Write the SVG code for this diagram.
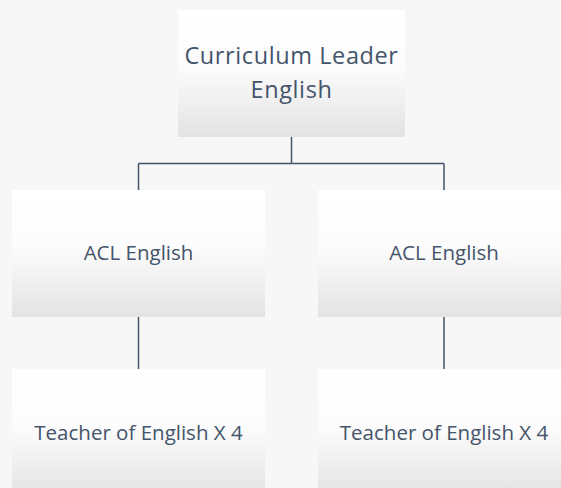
<svg xmlns="http://www.w3.org/2000/svg" width="561" height="488" viewBox="0 0 561 488">
<defs>
<linearGradient id="g" x1="0" y1="0" x2="0" y2="1">
<stop offset="0" stop-color="#ffffff"/>
<stop offset="0.45" stop-color="#fcfcfc"/>
<stop offset="1" stop-color="#e3e3e3"/>
</linearGradient>
<style>
.box{fill:url(#g);}
.t{font-family:"Open Sans","Liberation Sans",sans-serif;fill:#44546a;text-anchor:middle;}
.c{stroke:#44546a;stroke-width:1.5;fill:none;}
</style>
</defs>
<rect width="561" height="488" fill="#f7f7f7"/>
<g id="connectors">
<path class="c" d="M291.5 137 V163.5 M138.5 163.5 H444 M138.5 163.5 V190 M444 163.5 V190 M138.5 317 V369 M444 317 V369"/>
</g>
<g id="curriculum-leader">
<rect class="box" x="178" y="10" width="227" height="127"/>
<text class="t" x="291.5" y="64" font-size="23.5" letter-spacing="0.6">Curriculum Leader</text>
<text class="t" x="291.5" y="98" font-size="23.5" letter-spacing="0.6">English</text>
</g>
<g id="acl-left">
<rect class="box" x="12" y="190" width="253" height="127"/>
<text class="t" x="138.5" y="260" font-size="20.5">ACL English</text>
</g>
<g id="acl-right">
<rect class="box" x="318" y="190" width="253" height="127"/>
<text class="t" x="444" y="260" font-size="20.5">ACL English</text>
</g>
<g id="teacher-left">
<rect class="box" x="12" y="369" width="253" height="127"/>
<text class="t" x="138.5" y="440" font-size="20.5">Teacher of English X 4</text>
</g>
<g id="teacher-right">
<rect class="box" x="318" y="369" width="253" height="127"/>
<text class="t" x="444" y="440" font-size="20.5">Teacher of English X 4</text>
</g>
</svg>
